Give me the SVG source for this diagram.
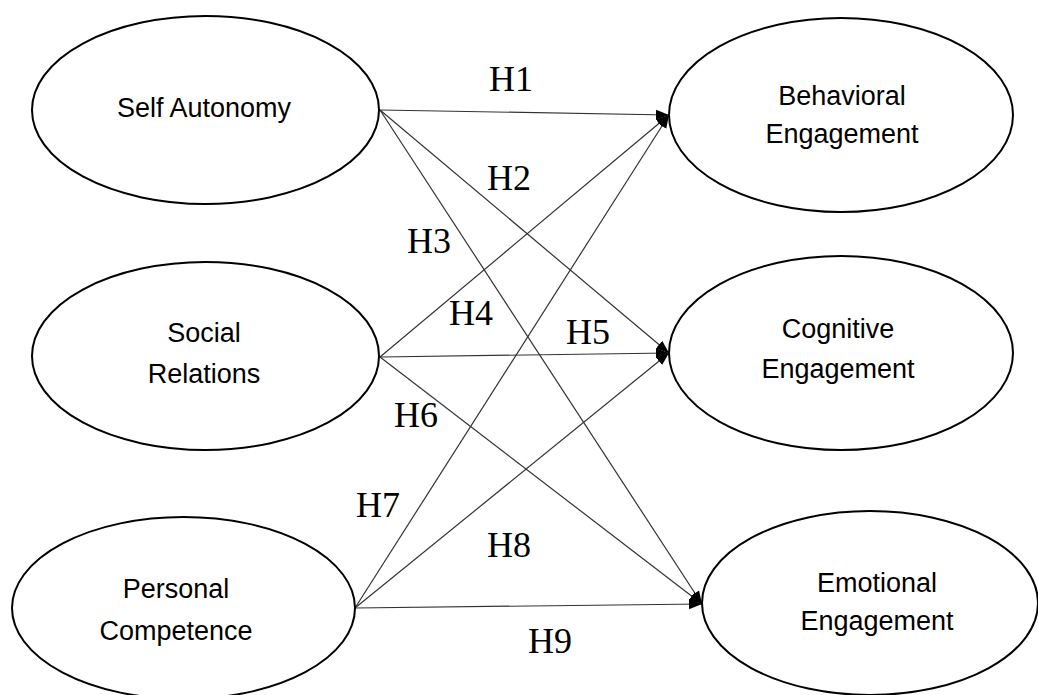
<svg xmlns="http://www.w3.org/2000/svg" width="1038" height="695" viewBox="0 0 1038 695">
<style>
.node ellipse{fill:#fff;stroke:#000;stroke-width:2}
.node text{font-family:"Liberation Sans",Arial,sans-serif;font-size:27px;fill:#000;text-anchor:middle}
.conn line{stroke:#333;stroke-width:1.2;fill:none}
.lbl{font-family:"Liberation Serif","Times New Roman",serif;font-size:36px;fill:#000}
</style>
<defs>
<marker id="arr" markerUnits="userSpaceOnUse" markerWidth="14" markerHeight="12" viewBox="0 0 14 12" refX="13" refY="6" orient="auto">
<path d="M0,1 L13,6 L0,11 Z" fill="#000"/>
</marker>
</defs>
<rect width="1038" height="695" fill="#fff"/>
<g class="conn">
<line x1="380" y1="110" x2="669" y2="115" marker-end="url(#arr)"/>
<line x1="380" y1="110" x2="669" y2="353" marker-end="url(#arr)"/>
<line x1="380" y1="110" x2="702" y2="604" marker-end="url(#arr)"/>
<line x1="380" y1="357" x2="669" y2="115" marker-end="url(#arr)"/>
<line x1="380" y1="357" x2="669" y2="353" marker-end="url(#arr)"/>
<line x1="380" y1="357" x2="702" y2="604" marker-end="url(#arr)"/>
<line x1="355" y1="608" x2="669" y2="115" marker-end="url(#arr)"/>
<line x1="355" y1="608" x2="669" y2="353" marker-end="url(#arr)"/>
<line x1="355" y1="608" x2="702" y2="604" marker-end="url(#arr)"/>
</g>
<g id="labels">
<text class="lbl" x="489" y="91">H1</text>
<text class="lbl" x="487" y="190">H2</text>
<text class="lbl" x="407" y="253">H3</text>
<text class="lbl" x="449" y="325">H4</text>
<text class="lbl" x="566" y="344">H5</text>
<text class="lbl" x="394" y="427">H6</text>
<text class="lbl" x="356" y="517">H7</text>
<text class="lbl" x="487" y="557">H8</text>
<text class="lbl" x="528" y="653">H9</text>
</g>
<g id="self-autonomy" class="node">
<ellipse cx="205.5" cy="110" rx="173.5" ry="94"/>
<text x="204" y="117">Self Autonomy</text>
</g>
<g id="social-relations" class="node">
<ellipse cx="205.5" cy="356" rx="173.5" ry="94"/>
<text x="204" y="342">Social</text>
<text x="204" y="383">Relations</text>
</g>
<g id="personal-competence" class="node">
<ellipse cx="183.5" cy="608" rx="171.5" ry="91"/>
<text x="176" y="598">Personal</text>
<text x="176" y="640">Competence</text>
</g>
<g id="behavioral-engagement" class="node">
<ellipse cx="841" cy="115" rx="172" ry="97"/>
<text x="842" y="105">Behavioral</text>
<text x="842" y="143">Engagement</text>
</g>
<g id="cognitive-engagement" class="node">
<ellipse cx="841" cy="353" rx="172" ry="97"/>
<text x="838" y="338">Cognitive</text>
<text x="838" y="378">Engagement</text>
</g>
<g id="emotional-engagement" class="node">
<ellipse cx="870" cy="603" rx="168" ry="92"/>
<text x="877" y="592">Emotional</text>
<text x="877" y="630">Engagement</text>
</g>
</svg>
